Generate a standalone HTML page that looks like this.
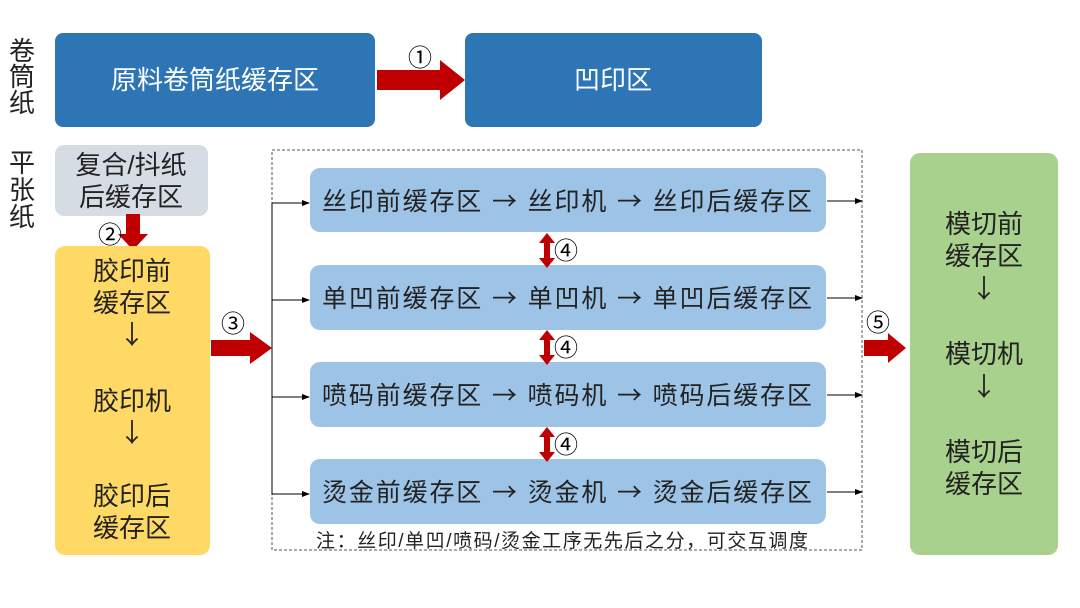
<!DOCTYPE html>
<html><head><meta charset="utf-8"><style>
html,body{margin:0;padding:0;background:#fff;width:1080px;height:608px;overflow:hidden}
text{font-family:"Liberation Sans","Noto Sans CJK SC",sans-serif}
.c{font-family:"Noto Sans CJK SC",sans-serif}
</style></head><body>
<svg width="1080" height="608" viewBox="0 0 1080 608" xmlns="http://www.w3.org/2000/svg">
<defs><marker id="a" markerWidth="8" markerHeight="8" refX="7" refY="4" orient="auto" markerUnits="userSpaceOnUse"><path d="M0,1 L8,4 L0,7 z" fill="#000"/></marker></defs>
<g font-size="26" fill="#222" text-anchor="middle">
<text x="22" y="60">卷</text><text x="22" y="86">筒</text><text x="22" y="112">纸</text>
<text x="22" y="172">平</text><text x="22" y="199">张</text><text x="22" y="226">纸</text>
</g>
<rect x="55" y="33" width="320" height="94" rx="8" fill="#2E75B6"/>
<text x="215" y="89" font-size="26" fill="#fff" text-anchor="middle">原料卷筒纸缓存区</text>
<rect x="465" y="33" width="297" height="94" rx="8" fill="#2E75B6"/>
<text x="613" y="89" font-size="26" fill="#fff" text-anchor="middle">凹印区</text>
<path d="M377,70 H440 V60 L465,80 L440,100 V90 H377 z" fill="#C00000"/>
<text class="c" x="420" y="66" font-size="24" text-anchor="middle">①</text>
<rect x="55" y="145" width="153" height="71" rx="9" fill="#D6DCE4"/>
<g font-size="26" fill="#222" text-anchor="middle"><text x="131" y="174">复合/抖纸</text><text x="131" y="206">后缓存区</text></g>
<path d="M126,214 H140 V234 H148 L133,250 L118,234 H126 z" fill="#C00000"/>
<text class="c" x="110" y="243" font-size="24" text-anchor="middle">②</text>
<rect x="55" y="246" width="155" height="309" rx="10" fill="#FFD966"/>
<g font-size="26" fill="#222" text-anchor="middle">
<text x="132" y="280">胶印前</text><text x="132" y="312">缓存区</text><text class="c" x="132" y="344">↓</text>
<text x="132" y="410">胶印机</text><text class="c" x="132" y="442">↓</text>
<text x="132" y="505">胶印后</text><text x="132" y="537">缓存区</text></g>
<path d="M211,340 H250 V332 L272,348 L250,364 V356 H211 z" fill="#C00000"/>
<text class="c" x="233" y="332" font-size="24" text-anchor="middle">③</text>
<rect x="272" y="150" width="590" height="400" fill="none" stroke="#555" stroke-width="1" stroke-dasharray="3,2"/>
<line x1="272" y1="203" x2="272" y2="495" stroke="#000"/>
<g stroke="#000" stroke-width="1" marker-end="url(#a)">
<line x1="272" y1="203" x2="309" y2="203"/><line x1="272" y1="300" x2="309" y2="300"/>
<line x1="272" y1="397" x2="309" y2="397"/><line x1="272" y1="494" x2="309" y2="494"/>
<line x1="827" y1="201" x2="862" y2="201"/><line x1="827" y1="298" x2="862" y2="298"/>
<line x1="827" y1="395" x2="862" y2="395"/><line x1="827" y1="492" x2="862" y2="492"/>
</g>
<g fill="#9DC3E6"><rect x="310" y="168" width="516" height="64" rx="10"/><rect x="310" y="265" width="516" height="65" rx="10"/><rect x="310" y="362" width="516" height="65" rx="10"/><rect x="310" y="459" width="516" height="65" rx="10"/></g>
<g font-size="25" fill="#222">
<text x="322" y="210" textLength="490" lengthAdjust="spacing">丝印前缓存区 <tspan class="c">→</tspan> 丝印机 <tspan class="c">→</tspan> 丝印后缓存区</text>
<text x="322" y="307" textLength="490" lengthAdjust="spacing">单凹前缓存区 <tspan class="c">→</tspan> 单凹机 <tspan class="c">→</tspan> 单凹后缓存区</text>
<text x="322" y="404" textLength="490" lengthAdjust="spacing">喷码前缓存区 <tspan class="c">→</tspan> 喷码机 <tspan class="c">→</tspan> 喷码后缓存区</text>
<text x="322" y="501" textLength="490" lengthAdjust="spacing">烫金前缓存区 <tspan class="c">→</tspan> 烫金机 <tspan class="c">→</tspan> 烫金后缓存区</text></g>
<g fill="#C00000">
<path d="M547,233 L555,243 H550 V258 H555 L547,268 L539,258 H544 V243 H539 z"/>
<path d="M547,330 L555,340 H550 V355 H555 L547,365 L539,355 H544 V340 H539 z"/>
<path d="M547,427 L555,437 H550 V452 H555 L547,462 L539,452 H544 V437 H539 z"/></g>
<g class="c" font-size="24" text-anchor="middle"><text class="c" x="566" y="259">④</text><text class="c" x="566" y="356">④</text><text class="c" x="566" y="453">④</text><text class="c" x="878" y="331">⑤</text></g>
<path d="M864,340 H888 V333 L906,348 L888,363 V356 H864 z" fill="#C00000"/>
<text x="316" y="547" font-size="19" fill="#222" textLength="492">注：丝印/单凹/喷码/烫金工序无先后之分，可交互调度</text>
<rect x="910" y="153" width="148" height="402" rx="10" fill="#A9D18E"/>
<g font-size="26" fill="#222" text-anchor="middle">
<text x="984" y="233">模切前</text><text x="984" y="265">缓存区</text><text class="c" x="984" y="298">↓</text>
<text x="984" y="363">模切机</text><text class="c" x="984" y="396">↓</text>
<text x="984" y="461">模切后</text><text x="984" y="493">缓存区</text></g>
</svg>
</body></html>
